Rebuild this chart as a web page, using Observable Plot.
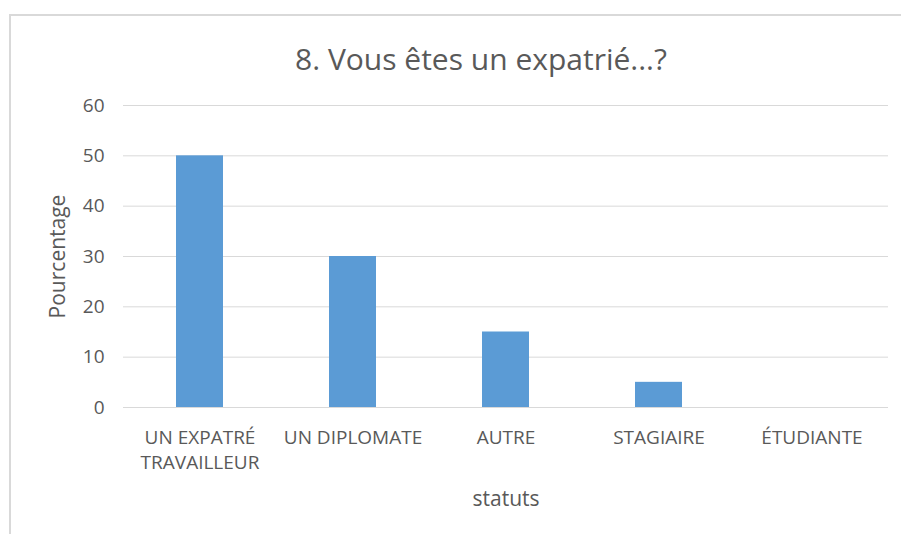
<!DOCTYPE html>
<html>
<head>
<meta charset="utf-8">
<script src="https://cdn.jsdelivr.net/npm/d3@7"></script>
<script src="https://cdn.jsdelivr.net/npm/@observablehq/plot@0.6"></script>
<style>
  body { margin: 0; background: #fff; }
  #wrap { position: relative; width: 901px; height: 534px; overflow: hidden; font-family: "Open Sans", sans-serif; }
  #frame { position: absolute; left: 9px; top: 14px; width: 900px; height: 530px; border-top: 2px solid #d9d9d9; border-left: 2px solid #d9d9d9; }
  #title { position: absolute; left: 0; width: 962px; top: 39px; text-align: center; font-size: 30px; color: #595959; line-height: 40px; }
  #chart { position: absolute; left: 0; top: 0; }
</style>
</head>
<body>
<div id="wrap">
  <div id="frame"></div>
  <div id="chart"></div>
  <div id="title">8. Vous êtes un expatrié...?</div>
</div>
<script>
const categories = ["UN EXPATRÉ\nTRAVAILLEUR", "UN DIPLOMATE", "AUTRE", "STAGIAIRE", "ÉTUDIANTE"];
const values = [50, 30, 15, 5, 0];
const yTicks = [0, 10, 20, 30, 40, 50, 60];
const xTitle = ["statuts"];
const yTitle = ["Pourcentage"];

const data = categories.map((c, i) => ({statut: c, value: values[i]}));

const chart = Plot.plot({
  width: 901,
  height: 534,
  marginLeft: 123,
  marginRight: 13,
  marginTop: 105,
  marginBottom: 127,
  style: {fontFamily: "Open Sans, sans-serif", color: "#595959", background: "transparent", overflow: "visible"},
  x: {domain: categories, paddingInner: 0.69, paddingOuter: 0.345, label: null},
  y: {domain: [0, 60], label: null},
  marks: [
    Plot.gridY(yTicks, {stroke: "#d9d9d9", strokeOpacity: 1, strokeWidth: 1}),
    Plot.barY(data, {x: "statut", y: "value", fill: "#5b9bd5"}),
    Plot.axisY(yTicks, {tickSize: 0, tickPadding: 19, fontSize: 19, fill: "#595959", label: null}),
    Plot.axisX({tickSize: 0, tickPadding: 19, fontSize: 19, fill: "#595959", lineHeight: 1.32, label: null}),
    Plot.text(yTitle, {text: d => d, frameAnchor: "left", textAnchor: "middle", lineAnchor: "middle", rotate: -90, dx: -65, fontSize: 21, fill: "#595959"}),
    Plot.text(xTitle, {text: d => d, frameAnchor: "bottom", textAnchor: "middle", lineAnchor: "middle", dy: 92, fontSize: 21, fill: "#595959"})
  ]
});
document.getElementById("chart").appendChild(chart);
</script>
</body>
</html>
